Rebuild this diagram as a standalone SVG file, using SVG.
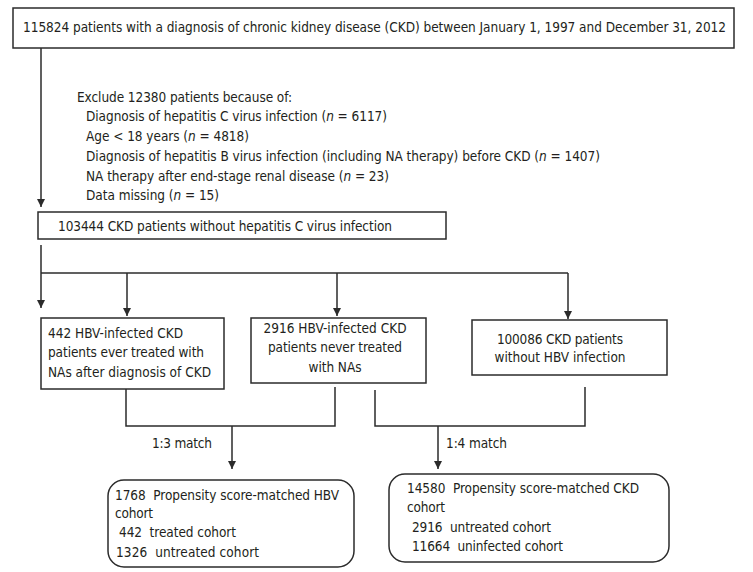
<svg xmlns="http://www.w3.org/2000/svg" width="753" height="572" viewBox="0 0 753 572">
<style>
text{font-family:"DejaVu Sans Condensed","DejaVu Sans",sans-serif;font-size:13.5px;fill:#231f20}
.pre{white-space:pre}
.box{fill:#fff;stroke:#2b2b2b;stroke-width:1.5}
.ln{fill:none;stroke:#2b2b2b;stroke-width:1.5}
.m{text-anchor:middle}
</style>
<defs>
<marker id="ah" markerUnits="userSpaceOnUse" markerWidth="10" markerHeight="10" refX="8" refY="4" orient="auto">
<path d="M0,0 L8,4 L0,8 Z" fill="#2b2b2b"/>
</marker>
</defs>
<rect width="753" height="572" fill="#fff"/>
<g id="connectors">
<path class="ln" d="M41,48 V207" marker-end="url(#ah)"/>
<path class="ln" d="M41,245 V308" marker-end="url(#ah)"/>
<path class="ln" d="M41,273 H568"/>
<path class="ln" d="M127,273 V316" marker-end="url(#ah)"/>
<path class="ln" d="M337,273 V316" marker-end="url(#ah)"/>
<path class="ln" d="M568,273 V319" marker-end="url(#ah)"/>
<path class="ln" d="M126,389 V426 H335 V387"/>
<path class="ln" d="M232,426 V469" marker-end="url(#ah)"/>
<path class="ln" d="M375,390 V426 H585 V387"/>
<path class="ln" d="M438,426 V469" marker-end="url(#ah)"/>
</g>
<g id="n-start">
<rect class="box" x="13" y="8" width="721" height="40"/>
<text x="23" y="32" textLength="703">115824 patients with a diagnosis of chronic kidney disease (CKD) between January 1, 1997 and December 31, 2012</text>
</g>
<g id="n-exclude">
<text x="77" y="102" textLength="215">Exclude 12380 patients because of:</text>
<text x="86" y="121" textLength="301">Diagnosis of hepatitis C virus infection (<tspan font-style="italic">n</tspan> = 6117)</text>
<text x="86" y="141" textLength="163">Age &lt; 18 years (<tspan font-style="italic">n</tspan> = 4818)</text>
<text x="86" y="161" textLength="514">Diagnosis of hepatitis B virus infection (including NA therapy) before CKD (<tspan font-style="italic">n</tspan> = 1407)</text>
<text x="86" y="181" textLength="303">NA therapy after end-stage renal disease (<tspan font-style="italic">n</tspan> = 23)</text>
<text x="86" y="200" textLength="133">Data missing (<tspan font-style="italic">n</tspan> = 15)</text>
</g>
<g id="n-nohcv">
<rect class="box" x="38" y="212" width="408" height="27"/>
<text x="58" y="231" textLength="334">103444 CKD patients without hepatitis C virus infection</text>
</g>
<g id="n-treated">
<rect class="box" x="41" y="318" width="183" height="71"/>
<text x="48" y="338" textLength="135">442 HBV-infected CKD</text>
<text x="48" y="357" textLength="156">patients ever treated with</text>
<text x="48" y="377" textLength="163">NAs after diagnosis of CKD</text>
</g>
<g id="n-untreated">
<rect class="box" x="251" y="318" width="175" height="65"/>
<text class="m" x="335" y="333" textLength="143">2916 HBV-infected CKD</text>
<text class="m" x="335" y="352" textLength="134">patients never treated</text>
<text class="m" x="335" y="372" textLength="53">with NAs</text>
</g>
<g id="n-uninfected">
<rect class="box" x="472" y="320" width="195" height="55"/>
<text class="m" x="560" y="344" textLength="126">100086 CKD patients</text>
<text class="m" x="560" y="362" textLength="131">without HBV infection</text>
</g>
<g id="labels">
<text x="152" y="448" textLength="60">1:3 match</text>
<text x="446" y="448" textLength="61">1:4 match</text>
</g>
<g id="n-hbv-cohort">
<rect class="box" x="108" y="480" width="246" height="87" rx="16" ry="16"/>
<text class="pre" x="115" y="500" textLength="224">1768  Propensity score-matched HBV</text>
<text x="115" y="518" textLength="38">cohort</text>
<text class="pre" x="119" y="537" textLength="117">442  treated cohort</text>
<text class="pre" x="116" y="557" textLength="143">1326  untreated cohort</text>
</g>
<g id="n-ckd-cohort">
<rect class="box" x="389" y="474" width="280" height="88" rx="16" ry="16"/>
<text class="pre" x="407" y="493" textLength="232">14580  Propensity score-matched CKD</text>
<text x="407" y="512" textLength="38">cohort</text>
<text class="pre" x="412" y="532" textLength="139">2916  untreated cohort</text>
<text class="pre" x="412" y="551" textLength="151">11664  uninfected cohort</text>
</g>
</svg>
